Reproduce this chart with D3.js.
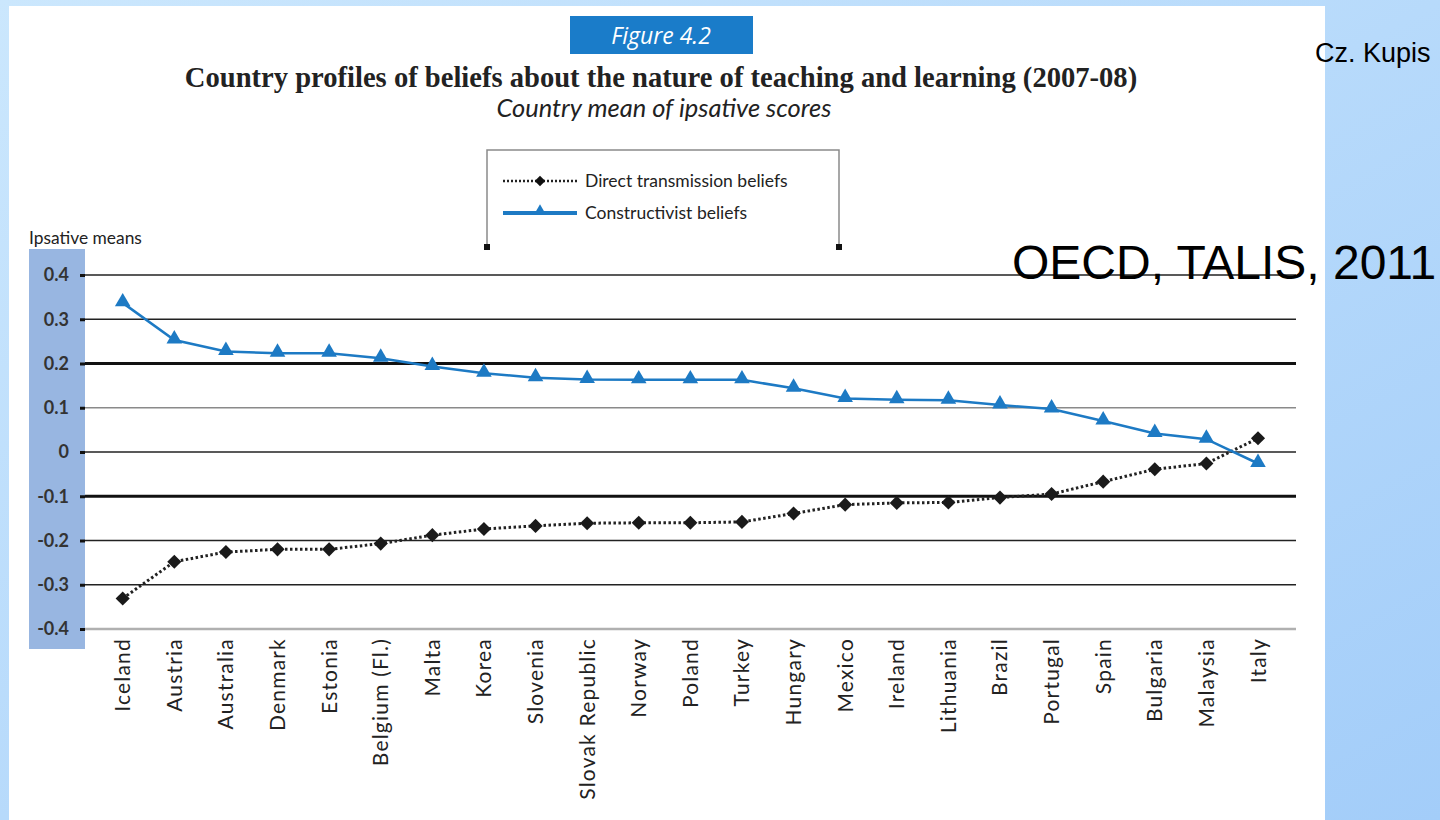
<!DOCTYPE html>
<html>
<head>
<meta charset="utf-8">
<script src="https://cdn.jsdelivr.net/npm/d3@7"></script>
<style>
html,body{margin:0;padding:0;overflow:hidden;background:#fff;}
svg{display:block;}
</style>
</head>
<body>
<svg id="chart" width="1440" height="820"></svg>
<script>
// ---- data ----
const countries = ["Iceland","Austria","Australia","Denmark","Estonia","Belgium (Fl.)","Malta","Korea","Slovenia","Slovak Republic","Norway","Poland","Turkey","Hungary","Mexico","Ireland","Lithuania","Brazil","Portugal","Spain","Bulgaria","Malaysia","Italy"];
const constructivist = [0.337,0.253,0.227,0.223,0.223,0.212,0.193,0.178,0.168,0.164,0.163,0.163,0.163,0.144,0.121,0.118,0.117,0.106,0.097,0.070,0.042,0.029,-0.026];
const directTransmission = [-0.331,-0.248,-0.226,-0.220,-0.220,-0.207,-0.188,-0.174,-0.167,-0.161,-0.160,-0.160,-0.158,-0.139,-0.119,-0.115,-0.114,-0.103,-0.095,-0.067,-0.039,-0.026,0.031];
const yTicks = [0.4,0.3,0.2,0.1,0,-0.1,-0.2,-0.3,-0.4];
const yTickLabels = ["0.4","0.3","0.2","0.1","0","-0.1","-0.2","-0.3","-0.4"];
const seriesNames = ["Direct transmission beliefs","Constructivist beliefs"];
const figureLabel = "Figure 4.2";
const titleText = "Country profiles of beliefs about the nature of teaching and learning (2007-08)";
const subtitleText = "Country mean of ipsative scores";
const yAxisTitle = "Ipsative means";
const authorText = "Cz. Kupis";
const sourceText = "OECD, TALIS, 2011";

// ---- setup ----
const svg = d3.select("#chart");
const W = 1440, H = 820;
const BLUE = "#1d7ac4";

const defs = svg.append("defs");
const bg = defs.append("linearGradient").attr("id","bg").attr("x1","0").attr("y1","0").attr("x2","1").attr("y2","1");
bg.append("stop").attr("offset","0%").attr("stop-color","#cbe7fd");
bg.append("stop").attr("offset","100%").attr("stop-color","#a3cdf9");
svg.append("rect").attr("width",W).attr("height",H).attr("fill","url(#bg)");

// white panel
svg.append("rect").attr("x",9).attr("y",6).attr("width",1316).attr("height",H-6).attr("fill","#fff");

const x = d3.scalePoint().domain(countries).range([122.7,1258]);
const y = d3.scaleLinear().domain([-0.4,0.4]).range([629,275]);

function fitText(sel, target){
  const w = sel.node().getComputedTextLength();
  const fs = parseFloat(sel.attr("font-size"));
  sel.attr("font-size", fs*target/w);
}

// y label band
svg.append("rect").attr("x",29).attr("y",249).attr("width",56).attr("height",400).attr("fill","#98b6e1");

// gridlines
function gridStyle(v){
  if (Math.abs(v-0.2)<1e-9 || Math.abs(v+0.1)<1e-9) return {c:"#111",w:3};
  if (Math.abs(v-0.1)<1e-9) return {c:"#8a8a8a",w:1.5};
  if (Math.abs(v+0.4)<1e-9) return {c:"#b0b0b0",w:2.5};
  return {c:"#222",w:1.5};
}
const grid = svg.append("g");
yTicks.forEach(v=>{
  const s = gridStyle(v);
  grid.append("line").attr("x1",85).attr("x2",1296).attr("y1",y(v)).attr("y2",y(v))
    .attr("stroke",s.c).attr("stroke-width",s.w);
});

// y axis with d3
const yAxis = d3.axisLeft(y).tickValues(yTicks).tickFormat((d,i)=>yTickLabels[i]).tickSize(5).tickPadding(11);
const ya = svg.append("g").attr("transform","translate(85,0)").call(yAxis);
ya.select(".domain").remove();
ya.selectAll(".tick line").attr("stroke","#111").attr("stroke-width",3);
ya.selectAll(".tick text").attr("font-family","Lato, 'Open Sans', sans-serif").attr("font-weight","bold")
  .attr("font-size",18).attr("fill","#333");

const yt = svg.append("text").attr("x",29).attr("y",244).text(yAxisTitle)
  .attr("font-family","Lato, sans-serif").attr("font-size",15).attr("fill","#222");
fitText(yt,113);

// x axis labels with d3
const xAxis = d3.axisBottom(x).tickSize(0).tickPadding(0);
const xa = svg.append("g").attr("transform","translate(0,638)").call(xAxis);
xa.select(".domain").remove();
xa.selectAll(".tick text")
  .attr("transform","translate(7,0) rotate(-90)")
  .attr("text-anchor","end").attr("dy",0).attr("y",0).attr("x",0)
  .attr("font-family","Lato, 'Open Sans', sans-serif").attr("font-size",21).attr("letter-spacing","1.2")
  .attr("fill","#222");

// series lines
const lineGen = d3.line().x((d,i)=>x(countries[i])).y(d=>y(d));
svg.append("path").datum(directTransmission).attr("d",lineGen)
  .attr("fill","none").attr("stroke","#222").attr("stroke-width",3).attr("stroke-dasharray","2.5,2.5");
svg.append("path").datum(constructivist).attr("d",lineGen)
  .attr("fill","none").attr("stroke",BLUE).attr("stroke-width",2.5);

const diamond = d3.symbol().type(d3.symbolSquare).size(100);
const tri = d3.symbol().type(d3.symbolTriangle).size(105);
svg.append("g").selectAll("path").data(directTransmission).join("path")
  .attr("d",diamond).attr("fill","#1a1a1a")
  .attr("transform",(d,i)=>`translate(${x(countries[i])},${y(d)}) rotate(45)`);
svg.append("g").selectAll("path").data(constructivist).join("path")
  .attr("d",tri).attr("fill",BLUE)
  .attr("transform",(d,i)=>`translate(${x(countries[i])},${y(d)-1})`);

// legend
const lg = svg.append("g");
lg.append("path").attr("d","M487,248 L487,150 L839,150 L839,248").attr("fill","none").attr("stroke","#8a8a8a").attr("stroke-width",1.5);
lg.append("rect").attr("x",484).attr("y",244).attr("width",6).attr("height",6).attr("fill","#111");
lg.append("rect").attr("x",836).attr("y",244).attr("width",6).attr("height",6).attr("fill","#111");
lg.append("line").attr("x1",503).attr("x2",577).attr("y1",181).attr("y2",181).attr("stroke","#222").attr("stroke-width",2.5).attr("stroke-dasharray","2,2");
lg.append("path").attr("d",d3.symbol().type(d3.symbolSquare).size(55)).attr("fill","#111").attr("transform","translate(540,181) rotate(45)");
lg.append("line").attr("x1",503).attr("x2",577).attr("y1",213).attr("y2",213).attr("stroke",BLUE).attr("stroke-width",4);
lg.append("path").attr("d",d3.symbol().type(d3.symbolTriangle).size(60)).attr("fill",BLUE).attr("transform","translate(540,211)");
seriesNames.forEach((n,i)=>{
  lg.append("text").attr("x",585).attr("y",187+i*32).text(n)
    .attr("font-family","Lato, sans-serif").attr("font-size",17.5).attr("fill","#222");
});

// figure label box
svg.append("rect").attr("x",570).attr("y",16).attr("width",183).attr("height",38).attr("fill","#1a7cc9");
svg.append("text").attr("x",661).attr("y",44).attr("text-anchor","middle").text(figureLabel)
  .attr("font-family","'Open Sans', sans-serif").attr("font-style","italic").attr("font-size",23).attr("fill","#fff");

// title & subtitle, fitted to measured widths
const t = svg.append("text").attr("x",661).attr("y",87).attr("text-anchor","middle").text(titleText)
  .attr("font-family","'Liberation Serif', serif").attr("font-weight","bold").attr("font-size",25).attr("fill","#222");
fitText(t,953);
const st = svg.append("text").attr("x",664).attr("y",117).attr("text-anchor","middle").text(subtitleText)
  .attr("font-family","Lato, sans-serif").attr("font-style","italic").attr("font-size",21).attr("fill","#222");
fitText(st,335);

// annotations
svg.append("text").attr("x",1315).attr("y",62).text(authorText)
  .attr("font-family","'Liberation Sans', Arial, sans-serif").attr("font-size",27).attr("fill","#000");
svg.append("text").attr("x",1012).attr("y",279).text(sourceText)
  .attr("font-family","'Liberation Sans', Arial, sans-serif").attr("font-size",48).attr("fill","#000");
</script>
</body>
</html>
